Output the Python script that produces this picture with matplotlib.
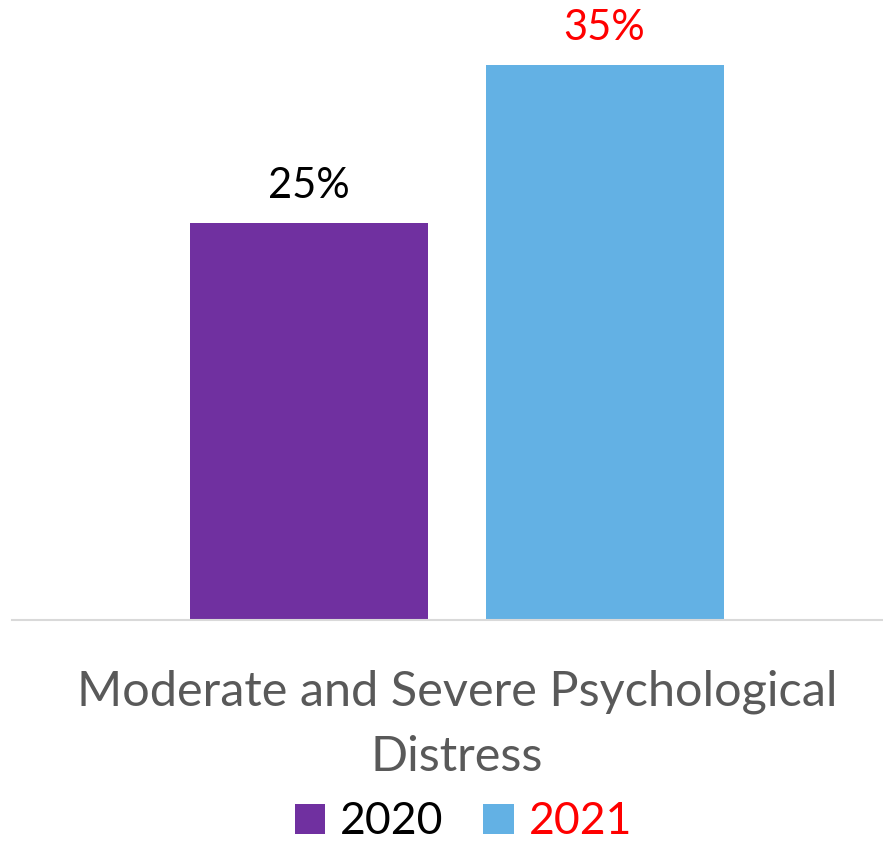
import matplotlib
matplotlib.use('Agg')
import matplotlib.pyplot as plt
from matplotlib.patches import Patch

# chart data
category = 'Moderate and Severe Psychological\nDistress'
years = ['2020', '2021']
values = [25, 35]
bar_colors = ['#7030a0', '#63b1e4']
label_colors = ['black', 'red']

plt.rcParams['font.family'] = ['Lato', 'DejaVu Sans']

W, H = 883, 843
fig = plt.figure(figsize=(W / 100, H / 100), dpi=100)

# axes placed in pixel terms: baseline at y=620, line from x=12 to right edge
ax = fig.add_axes([12 / W, (H - 620) / H, (W - 12) / W, 620 / H])

# bar geometry (px): centers 309 and 604.5, width 238
unit = 295.5
bw = 238 / unit
x = [0, 1]
ax.bar(x, values, width=bw, color=bar_colors, zorder=2)
ax.set_xlim(-(309 - 12) / unit, 1 + (W - 604.5) / unit)
ax.set_ylim(0, 620 / 15.87)

for xi, v, c in zip(x, values, label_colors):
    ax.annotate('%d%%' % v, (xi, v), xytext=(0, 18), textcoords='offset points',
                ha='center', va='baseline', fontsize=30, color=c)

for s in ['top', 'right', 'left']:
    ax.spines[s].set_visible(False)
ax.spines['bottom'].set_color('#d9d9d9')
ax.spines['bottom'].set_linewidth(1.5)
ax.set_xticks([])
ax.set_yticks([])

# category label under the axis, one text per line
baselines = [706, 771]
for line, yb in zip(category.split('\n'), baselines):
    fig.text(457 / W, 1 - yb / H, line, ha='center', va='baseline',
             fontsize=35, color='#595959')

handles = [Patch(facecolor=c, edgecolor='none') for c in bar_colors]
leg = fig.legend(handles, years, loc='center', bbox_to_anchor=(463.5 / W, 1 - 822 / H),
                 ncol=2, frameon=False, fontsize=32, handlelength=0.68, handleheight=0.68,
                 handletextpad=0.34, columnspacing=0.89)
for t, c in zip(leg.get_texts(), label_colors):
    t.set_color(c)

fig.savefig('out.png', dpi=100)
